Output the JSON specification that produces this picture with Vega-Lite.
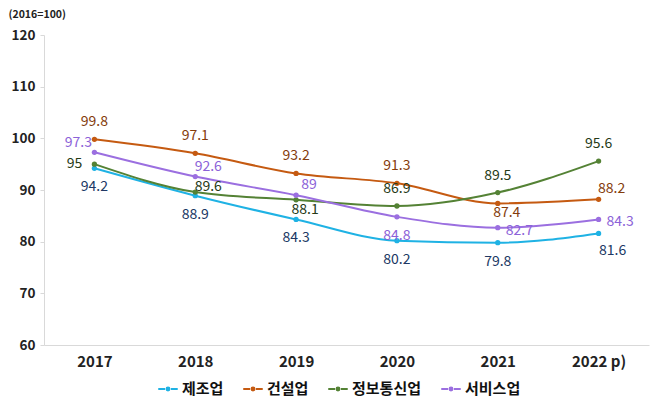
{
  "$schema": "https://vega.github.io/schema/vega-lite/v6.json",
  "width": 605,
  "height": 310,
  "autosize": {"type": "none"},
  "padding": {"left": 44, "top": 35, "right": 9, "bottom": 62},
  "config": {
    "view": {"stroke": null},
    "font": "Noto Sans CJK KR",
    "text": {"font": "Noto Sans CJK KR"}
  },
  "data": {
    "values": [
      {"year": "2017", "s": "제조업", "v": 94.2},
      {"year": "2018", "s": "제조업", "v": 88.9},
      {"year": "2019", "s": "제조업", "v": 84.3},
      {"year": "2020", "s": "제조업", "v": 80.2},
      {"year": "2021", "s": "제조업", "v": 79.8},
      {"year": "2022 p)", "s": "제조업", "v": 81.6},
      {"year": "2017", "s": "건설업", "v": 99.8},
      {"year": "2018", "s": "건설업", "v": 97.1},
      {"year": "2019", "s": "건설업", "v": 93.2},
      {"year": "2020", "s": "건설업", "v": 91.3},
      {"year": "2021", "s": "건설업", "v": 87.4},
      {"year": "2022 p)", "s": "건설업", "v": 88.2},
      {"year": "2017", "s": "정보통신업", "v": 95},
      {"year": "2018", "s": "정보통신업", "v": 89.6},
      {"year": "2019", "s": "정보통신업", "v": 88.1},
      {"year": "2020", "s": "정보통신업", "v": 86.9},
      {"year": "2021", "s": "정보통신업", "v": 89.5},
      {"year": "2022 p)", "s": "정보통신업", "v": 95.6},
      {"year": "2017", "s": "서비스업", "v": 97.3},
      {"year": "2018", "s": "서비스업", "v": 92.6},
      {"year": "2019", "s": "서비스업", "v": 89},
      {"year": "2020", "s": "서비스업", "v": 84.8},
      {"year": "2021", "s": "서비스업", "v": 82.7},
      {"year": "2022 p)", "s": "서비스업", "v": 84.3}
    ]
  },
  "encoding": {
    "x": {
      "field": "year", "type": "ordinal",
      "scale": {"type": "point", "padding": 0.5},
      "axis": {
        "title": null, "labelAngle": 0, "ticks": false,
        "domainColor": "#d9d9d9", "domainWidth": 1,
        "labelFontSize": 15, "labelFontWeight": "bold", "labelColor": "#222222",
        "labelPadding": 9
      }
    },
    "y": {
      "field": "v", "type": "quantitative",
      "scale": {"domain": [60, 120], "nice": false, "zero": false},
      "axis": {
        "values": [60, 70, 80, 90, 100, 110, 120],
        "grid": false,
        "domainColor": "#d9d9d9", "tickColor": "#d9d9d9", "tickSize": 4,
        "labelFontSize": 13.5, "labelFontWeight": "bold", "labelColor": "#222222",
        "labelPadding": 5,
        "title": "(2016=100)", "titleAngle": 0, "titleAlign": "left",
        "titleBaseline": "middle", "titleX": -36, "titleY": -21,
        "titleFontSize": 10.5, "titleFontWeight": "bold", "titleColor": "#222222"
      }
    }
  },
  "layer": [
    {
      "mark": {"type": "line", "interpolate": "monotone", "strokeWidth": 2,
               "point": {"filled": true, "size": 28}},
      "encoding": {
        "color": {
          "field": "s", "type": "nominal",
          "scale": {"domain": ["제조업", "건설업", "정보통신업", "서비스업"],
                    "range": ["#1FB2E4", "#C55A11", "#548235", "#9B6FE0"]},
          "legend": {
            "title": null, "orient": "none", "direction": "horizontal",
            "legendX": 113, "legendY": 343,
            "symbolType": "M-1,0H-0.3M0.3,0H1M-0.15,0a0.15,0.15 0 1,0 0.3,0a0.15,0.15 0 1,0 -0.3,0",
            "symbolSize": 380, "symbolStrokeWidth": 2,
            "labelFontSize": 15, "labelColor": "#111111", "labelFontWeight": "bold",
            "labelOffset": 3, "columnPadding": 15
          }
        }
      }
    },
    {
      "transform": [{"filter": "(datum.s=='건설업' && datum.year!='2021' && datum.year!='2022 p)') || (datum.s=='정보통신업' && (datum.year=='2020' || datum.year=='2021' || datum.year=='2022 p)'))"}],
      "mark": {"type": "text", "dy": -17, "fontSize": 14, "baseline": "middle"},
      "encoding": {
        "text": {"field": "v", "type": "quantitative"},
        "color": {"field": "s", "type": "nominal",
          "scale": {"domain": ["제조업", "건설업", "정보통신업", "서비스업"],
                    "range": ["#203864", "#843C0C", "#263A17", "#8C62D8"]}, "legend": null}
      }
    },
    {
      "transform": [{"filter": "(datum.s=='제조업' && datum.year!='2022 p)') || (datum.s=='서비스업' && datum.year=='2020')"}],
      "mark": {"type": "text", "dy": 19, "fontSize": 14, "baseline": "middle"},
      "encoding": {
        "text": {"field": "v", "type": "quantitative"},
        "color": {"field": "s", "type": "nominal",
          "scale": {"domain": ["제조업", "건설업", "정보통신업", "서비스업"],
                    "range": ["#203864", "#843C0C", "#263A17", "#8C62D8"]}, "legend": null}
      }
    },
    {
      "transform": [{"filter": "datum.s=='제조업' && datum.year=='2022 p)'"}],
      "mark": {"type": "text", "dx": 14, "dy": 18, "fontSize": 14, "baseline": "middle"},
      "encoding": {
        "text": {"field": "v", "type": "quantitative"},
        "color": {"field": "s", "type": "nominal",
          "scale": {"domain": ["제조업", "건설업", "정보통신업", "서비스업"],
                    "range": ["#203864", "#843C0C", "#263A17", "#8C62D8"]}, "legend": null}
      }
    },
    {
      "transform": [{"filter": "datum.year=='2017' && datum.s=='정보통신업'"}],
      "mark": {"type": "text", "dx": -20, "dy": 0, "fontSize": 14, "baseline": "middle"},
      "encoding": {
        "text": {"field": "v", "type": "quantitative"},
        "color": {"field": "s", "type": "nominal",
          "scale": {"domain": ["제조업", "건설업", "정보통신업", "서비스업"],
                    "range": ["#203864", "#843C0C", "#263A17", "#8C62D8"]}, "legend": null}
      }
    },
    {
      "transform": [{"filter": "datum.year=='2017' && datum.s=='서비스업'"}],
      "mark": {"type": "text", "dx": -16, "dy": -9, "fontSize": 14, "baseline": "middle"},
      "encoding": {
        "text": {"field": "v", "type": "quantitative"},
        "color": {"field": "s", "type": "nominal",
          "scale": {"domain": ["제조업", "건설업", "정보통신업", "서비스업"],
                    "range": ["#203864", "#843C0C", "#263A17", "#8C62D8"]}, "legend": null}
      }
    },
    {
      "transform": [{"filter": "datum.s=='정보통신업' && datum.year=='2018'"}],
      "mark": {"type": "text", "dx": 13, "dy": -5, "fontSize": 14, "baseline": "middle"},
      "encoding": {
        "text": {"field": "v", "type": "quantitative"},
        "color": {"field": "s", "type": "nominal",
          "scale": {"domain": ["제조업", "건설업", "정보통신업", "서비스업"],
                    "range": ["#203864", "#843C0C", "#263A17", "#8C62D8"]}, "legend": null}
      }
    },
    {
      "transform": [{"filter": "(datum.s=='서비스업' && (datum.year=='2018' || datum.year=='2019')) || (datum.s=='건설업' && datum.year=='2022 p)')"}],
      "mark": {"type": "text", "dx": 13, "dy": -10, "fontSize": 14, "baseline": "middle"},
      "encoding": {
        "text": {"field": "v", "type": "quantitative"},
        "color": {"field": "s", "type": "nominal",
          "scale": {"domain": ["제조업", "건설업", "정보통신업", "서비스업"],
                    "range": ["#203864", "#843C0C", "#263A17", "#8C62D8"]}, "legend": null}
      }
    },
    {
      "transform": [{"filter": "(datum.s=='건설업' && datum.year=='2021') || (datum.s=='정보통신업' && datum.year=='2019')"}],
      "mark": {"type": "text", "dx": 9, "dy": 10, "fontSize": 14, "baseline": "middle"},
      "encoding": {
        "text": {"field": "v", "type": "quantitative"},
        "color": {"field": "s", "type": "nominal",
          "scale": {"domain": ["제조업", "건설업", "정보통신업", "서비스업"],
                    "range": ["#203864", "#843C0C", "#263A17", "#8C62D8"]}, "legend": null}
      }
    },
    {
      "transform": [{"filter": "datum.s=='서비스업' && (datum.year=='2021' || datum.year=='2022 p)')"}],
      "mark": {"type": "text", "dx": 8, "dy": 3, "align": "left", "fontSize": 14, "baseline": "middle"},
      "encoding": {
        "text": {"field": "v", "type": "quantitative"},
        "color": {"field": "s", "type": "nominal",
          "scale": {"domain": ["제조업", "건설업", "정보통신업", "서비스업"],
                    "range": ["#203864", "#843C0C", "#263A17", "#8C62D8"]}, "legend": null}
      }
    }
  ],
  "resolve": {"scale": {"color": "independent"}}
}
